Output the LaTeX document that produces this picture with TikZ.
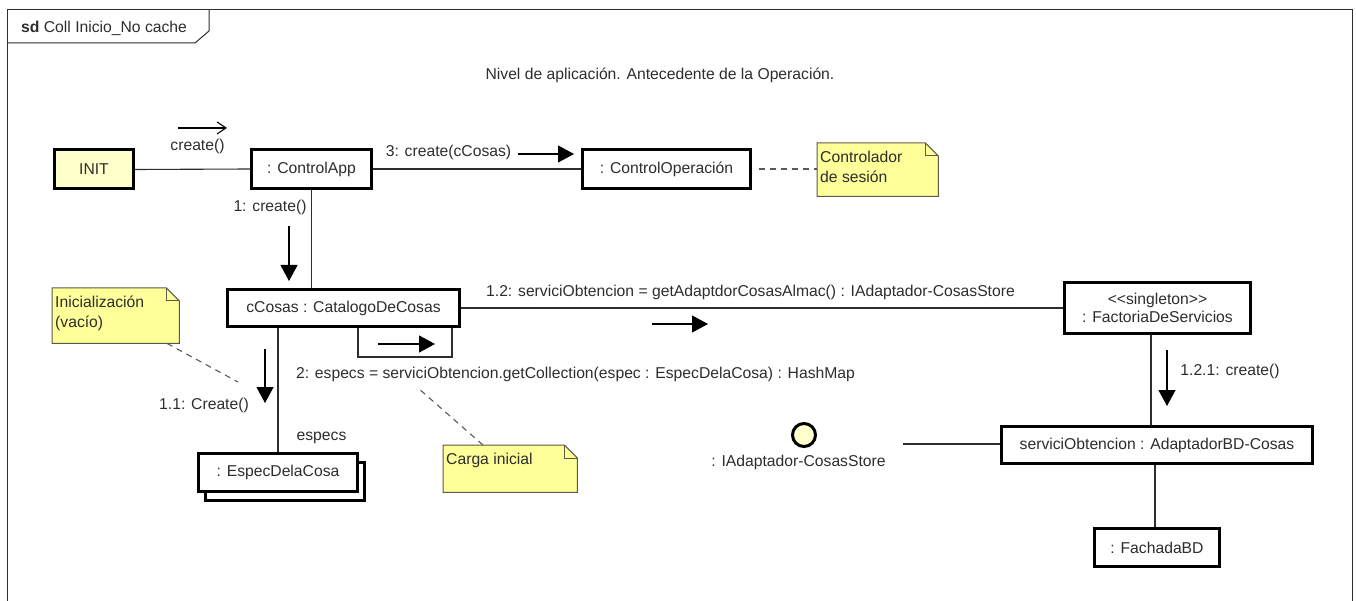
\documentclass[tikz,border=0pt]{standalone}
\usepackage{fontspec}
\setmainfont{Liberation Sans}
\usetikzlibrary{arrows.meta}

\definecolor{objyellow}{RGB}{255,255,204}
\definecolor{noteyellow}{RGB}{255,255,153}
\definecolor{noteborder}{RGB}{90,90,70}
\definecolor{inkgray}{RGB}{45,45,45}

\begin{document}
\begin{tikzpicture}[
    x=1pt, y=-1pt,
    font=\fontsize{15.7}{18.5}\selectfont,
    obj/.style={
      draw=black,
      line width=3pt,
      fill=white,
      inner sep=0pt,
      align=center,
      text=inkgray
    },
    notebody/.style={
      fill=noteyellow,
      inner sep=0pt,
      anchor=north west
    },
    notetext/.style={
      anchor=north west,
      align=left,
      inner xsep=3pt,
      inner ysep=8pt,
      text=inkgray,
      font=\fontsize{15.7}{20}\selectfont
    },
    txt/.style={text=inkgray, inner sep=1pt},
    link/.style={draw=inkgray, line width=1.1pt},
    msg/.style={-{Triangle[length=16pt, width=17pt]}, draw=black, line width=1.1pt},
    noteline/.style={draw=gray!70!black, line width=1.1pt, dash pattern=on 6pt off 5pt}
  ]
  \useasboundingbox (0,0) rectangle (1356,601);

  % frame
  \draw[link, line width=1pt] (7,601) -- (7,10) -- (1352,10) -- (1352,601);
  \draw[link, line width=1pt] (7,43) -- (195,43) -- (209,31) -- (209,10);
  \node[txt, anchor=west] (framelbl) at (20,28.5) {\textbf{sd} Coll Inicio\_No cache};
  \node[txt] (title) at (660,75) {Nivel de aplicación. Antecedente de la Operación.};

  % objects
  \node[obj, fill=objyellow, minimum width=79pt, minimum height=39pt] (init) at (94,169.5) {INIT};
  \node[obj, minimum width=120pt, minimum height=39pt] (ctrlapp) at (311.5,169) {: ControlApp};
  \node[obj, minimum width=168pt, minimum height=39pt] (ctrlop) at (666.5,169) {: ControlOperación};
  \node[obj, minimum width=232pt, minimum height=37pt] (ccosas) at (343.5,308) {cCosas : CatalogoDeCosas};
  \node[obj, minimum width=186pt, minimum height=51pt] (factoria) at (1157.5,308)
    {<{}<singleton>{}>\\: FactoriaDeServicios};
  \node[obj, minimum width=159pt, minimum height=38pt] (especback) at (285,481.5) {};
  \node[obj, minimum width=159pt, minimum height=38pt] (espec) at (278,472.5) {: EspecDelaCosa};
  \node[obj, minimum width=311pt, minimum height=37pt] (adaptador) at (1157,445)
    {serviciObtencion : AdaptadorBD-Cosas};
  \node[obj, minimum width=125pt, minimum height=38pt] (fachada) at (1157,547.5) {: FachadaBD};
  \node[obj, circle, fill=objyellow, minimum size=23pt] (iface) at (804,435) {};

  % notes
  \node[notebody, minimum width=121pt, minimum height=53pt] (nsesion) at (817,143) {};
  \node[notebody, minimum width=127pt, minimum height=55pt] (ninic) at (52,288) {};
  \node[notebody, minimum width=134pt, minimum height=47pt] (ncarga) at (443,445) {};
  \foreach \n in {nsesion,ninic,ncarga}{
    \fill[white] ([xshift=-13pt]\n.north east) -- (\n.north east) -- ([yshift=-13pt]\n.north east) -- cycle;
    \draw[noteborder, line width=1pt] (\n.north west) -- ([xshift=-13pt]\n.north east)
      -- ([yshift=-13pt]\n.north east) -- (\n.south east) -- (\n.south west) -- cycle;
    \draw[noteborder, line width=1pt] ([xshift=-13pt]\n.north east) |- ([yshift=-13pt]\n.north east);
  }
  \node[notetext] (nsesiontxt) at (nsesion.north west) {Controlador\\de sesión};
  \node[notetext] (ninictxt) at (ninic.north west) {Inicialización\\(vacío)};
  \node[notetext] (ncargatxt) at (ncarga.north west) {Carga inicial};

  % links
  \draw[link] (init.east) -- (ctrlapp.west);
  \draw[link] (ctrlapp.east) -- (ctrlop.west);
  \draw[link] (ctrlapp.south) -- (ctrlapp.south |- ccosas.north);
  \draw[link] (ccosas.east) -- (factoria.west);
  \draw[link] (espec.north |- ccosas.south) -- (espec.north);
  \draw[link] ([xshift=14.5pt]ccosas.south) |- ([xshift=108.5pt, yshift=-29pt]ccosas.south)
    -- ([xshift=108.5pt]ccosas.south);
  \draw[link] ([xshift=-6.5pt]factoria.south) -- ([xshift=-6.5pt]factoria.south |- adaptador.north);
  \draw[link] ([xshift=-2pt]adaptador.south) -- ([xshift=-2pt]adaptador.south |- fachada.north);
  \coordinate (ifaceend) at (903,444);
  \draw[link] (ifaceend) -- (ifaceend -| adaptador.west);

  % note anchors
  \draw[noteline] ([xshift=6.5pt]ctrlop.east) -- (nsesion.west |- ctrlop.east);
  \coordinate (inicend) at (238,382);
  \draw[noteline] ([xshift=115pt]ninic.south west) -- (inicend);
  \coordinate (cargaend) at (418,388);
  \draw[noteline] ([xshift=40pt]ncarga.north west) -- (cargaend);

  % messages
  \node[txt] (lcreate) at (197.5,146) {create()};
  \node[txt] (lcreate3) at (448.5,152) {3: create(cCosas)};
  \node[txt] (lcreate1) at (270,207) {1: create()};
  \node[txt] (lget) at (750.5,292)
    {1.2: serviciObtencion = getAdaptdorCosasAlmac() : IAdaptador-CosasStore};
  \node[txt] (lcoll) at (575.5,374)
    {2: especs = serviciObtencion.getCollection(espec : EspecDelaCosa) : HashMap};
  \node[txt] (lcreate11) at (204,405) {1.1: Create()};
  \node[txt] (lespecs) at (321.5,438) {especs};
  \node[txt] (lcreate121) at (1230,371) {1.2.1: create()};
  \node[txt] (liface) at (798.5,462) {: IAdaptador-CosasStore};

  \draw[-{Straight Barb[length=9pt, width=12pt]}, line width=1.1pt] (178,128) -- (227,128);
  \draw[msg] (518,154) -- (574,154);
  \draw[msg] (289,226) -- (289,281);
  \draw[msg] (378,344) -- (435,344);
  \draw[msg] (652,324) -- (708,324);
  \draw[msg] (265,349) -- (265,403);
  \draw[msg] (1167,350) -- (1167,406);
\end{tikzpicture}
\end{document}
